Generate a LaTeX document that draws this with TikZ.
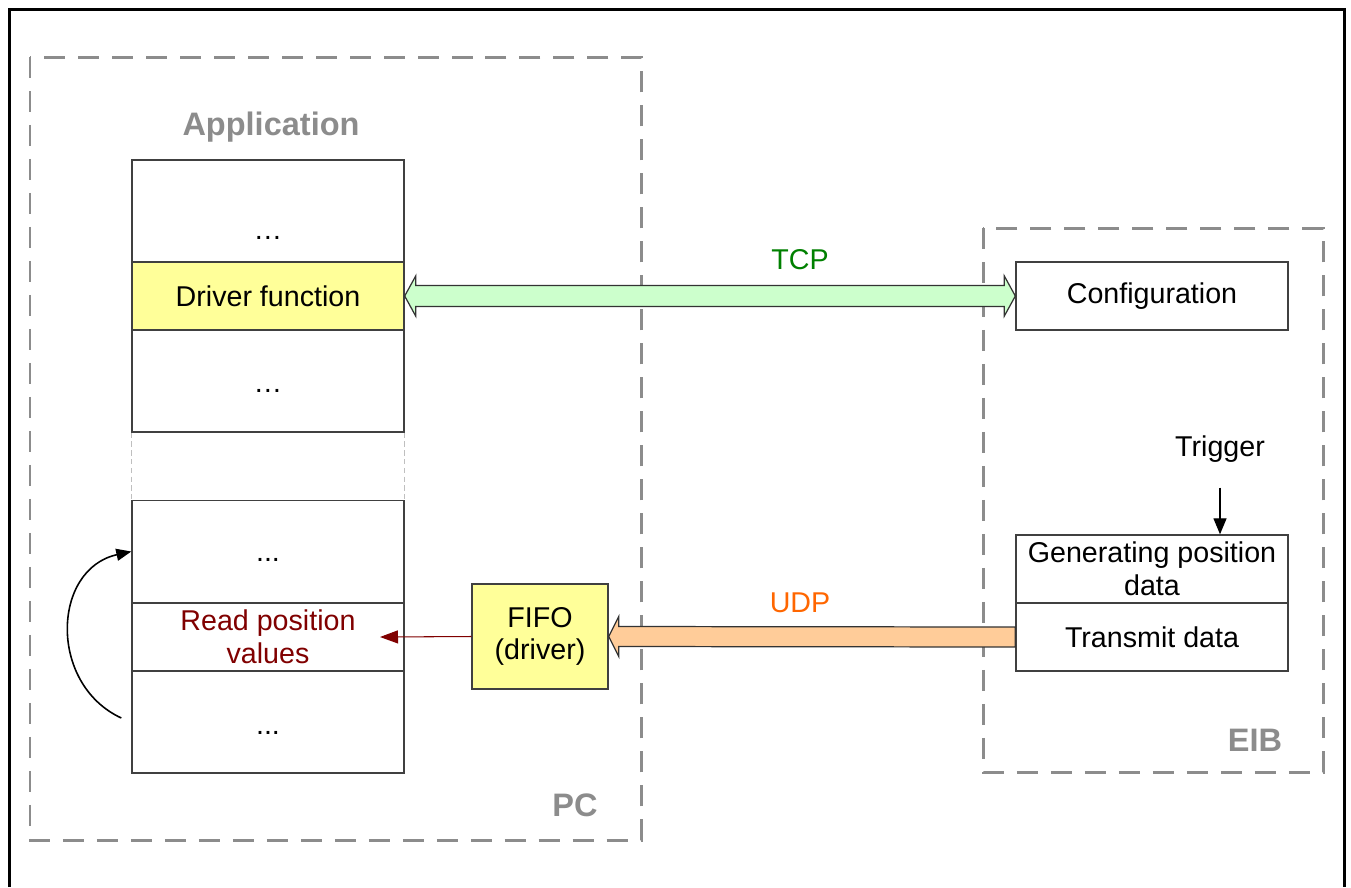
\documentclass[tikz,border=0pt]{standalone}
\usepackage{fontspec}
\setmainfont{Liberation Sans}
\usetikzlibrary{arrows.meta,calc}

\definecolor{fifoyellow}{HTML}{FFFF99}
\definecolor{tcpfill}{HTML}{CCFFCC}
\definecolor{udpfill}{HTML}{FFCC99}
\definecolor{tcptext}{HTML}{008000}
\definecolor{udptext}{HTML}{FF6600}
\definecolor{readred}{HTML}{800000}
\definecolor{groupgray}{HTML}{8C8C8C}

\tikzset{
  every node/.style={font=\fontsize{16.3}{18.7}\selectfont},
  layer/.style={draw=black!75, line width=0.8pt, minimum width=5.44cm, minimum height=2.04cm, inner sep=0pt, align=center},
  thinlayer/.style={layer, minimum height=1.36cm},
  groupbox/.style={draw=groupgray, line width=1.7pt, dash pattern=on 0.42cm off 0.26cm},
  grouplabel/.style={text=groupgray, font=\fontsize{18.5}{21}\selectfont\bfseries},
  gapline/.style={draw=black!25, line width=0.6pt, dash pattern=on 3pt off 2pt},
  fatarrow/.style={draw=black!80, line width=0.7pt, line join=miter},
}

\begin{document}
\begin{tikzpicture}[x=0.02cm, y=-0.02cm]
\useasboundingbox (0,0) rectangle (1351,887);
\draw[line width=1.7pt] (9.5,887) -- (9.5,9.5) -- (1344,9.5) -- (1344,887);

% PC side
\draw[groupbox] (30,57) rectangle (641,840);
\node (app) at (271,127) [grouplabel] {Application};
\node (pc) at (575,805) [grouplabel] {PC};

\node (top1) at (268,211) [layer] {};
\node (drv) at (268,296) [thinlayer, fill=fifoyellow] {Driver function};
\node (top3) at (268,381) [layer] {};
\node (bot1) at (268,551.5) [layer] {};
\node (read) at (268,637) [thinlayer, text=readred] {Read position\\values};
\node (bot3) at (268,722) [layer] {};
\node (dots1) at (268,238) {…};
\node (dots2) at (268,391) {…};
\node (dots3) at (268,560) {...};
\node (dots4) at (268,733) {...};
\draw[gapline] (top3.south west) -- (bot1.north west);
\draw[gapline] (top3.south east) -- (bot1.north east);

\node (fifo) at (540,636.5) [draw=black!75, line width=0.8pt, fill=fifoyellow, minimum width=2.72cm, minimum height=2.1cm, align=center, inner sep=0pt] {FIFO\\(driver)};

% EIB side
\draw[groupbox] (983,228) rectangle (1323,772);
\node (eib) at (1255,740) [grouplabel] {EIB};
\node (cfg) at (1152,296) [thinlayer] {Configuration};
\node (gen) at (1152,569) [thinlayer] {Generating position\\data};
\node (tx) at (1152,637) [thinlayer] {Transmit data};
\node (trig) at (1220,449) {Trigger};

% connections
\draw[fatarrow, fill=tcpfill] (drv.east) -- ++(11,-20) -- ++(0,9.5) -- ($(cfg.west)+(-11,-10.5)$) -- ++(0,-9.5) -- (cfg.west) -- ++(-11,20) -- ++(0,-9.5) -- ($(drv.east)+(11,10.5)$) -- ++(0,9.5) -- cycle;
\node (tcp) at (800,260) [text=tcptext] {TCP};
\draw[fatarrow, fill=udpfill] (fifo.east) -- ++(10,-20) -- ++(0,10) -- ($(tx.west)+(0,-10)$) -- ++(0,20) -- ($(fifo.east)+(10,10)$) -- ++(0,10) -- cycle;
\node (udp) at (800,603) [text=udptext] {UDP};

\coordinate (readtip) at (380,637);
\draw[readred, line width=0.6pt, -{Triangle[length=0.36cm,width=0.26cm]}] (fifo.west) -- (readtip);
\draw[line width=0.7pt, -{Triangle[length=0.32cm,width=0.26cm]}] ($(trig.south)+(0,19)$) -- (trig.south |- gen.north);
\draw[line width=0.9pt, -{Triangle[length=0.3cm,width=0.24cm]}] ($(bot3.west)+(-10,-4)$) .. controls (48,684) and (52,569) .. (bot1.west);
\end{tikzpicture}
\end{document}
